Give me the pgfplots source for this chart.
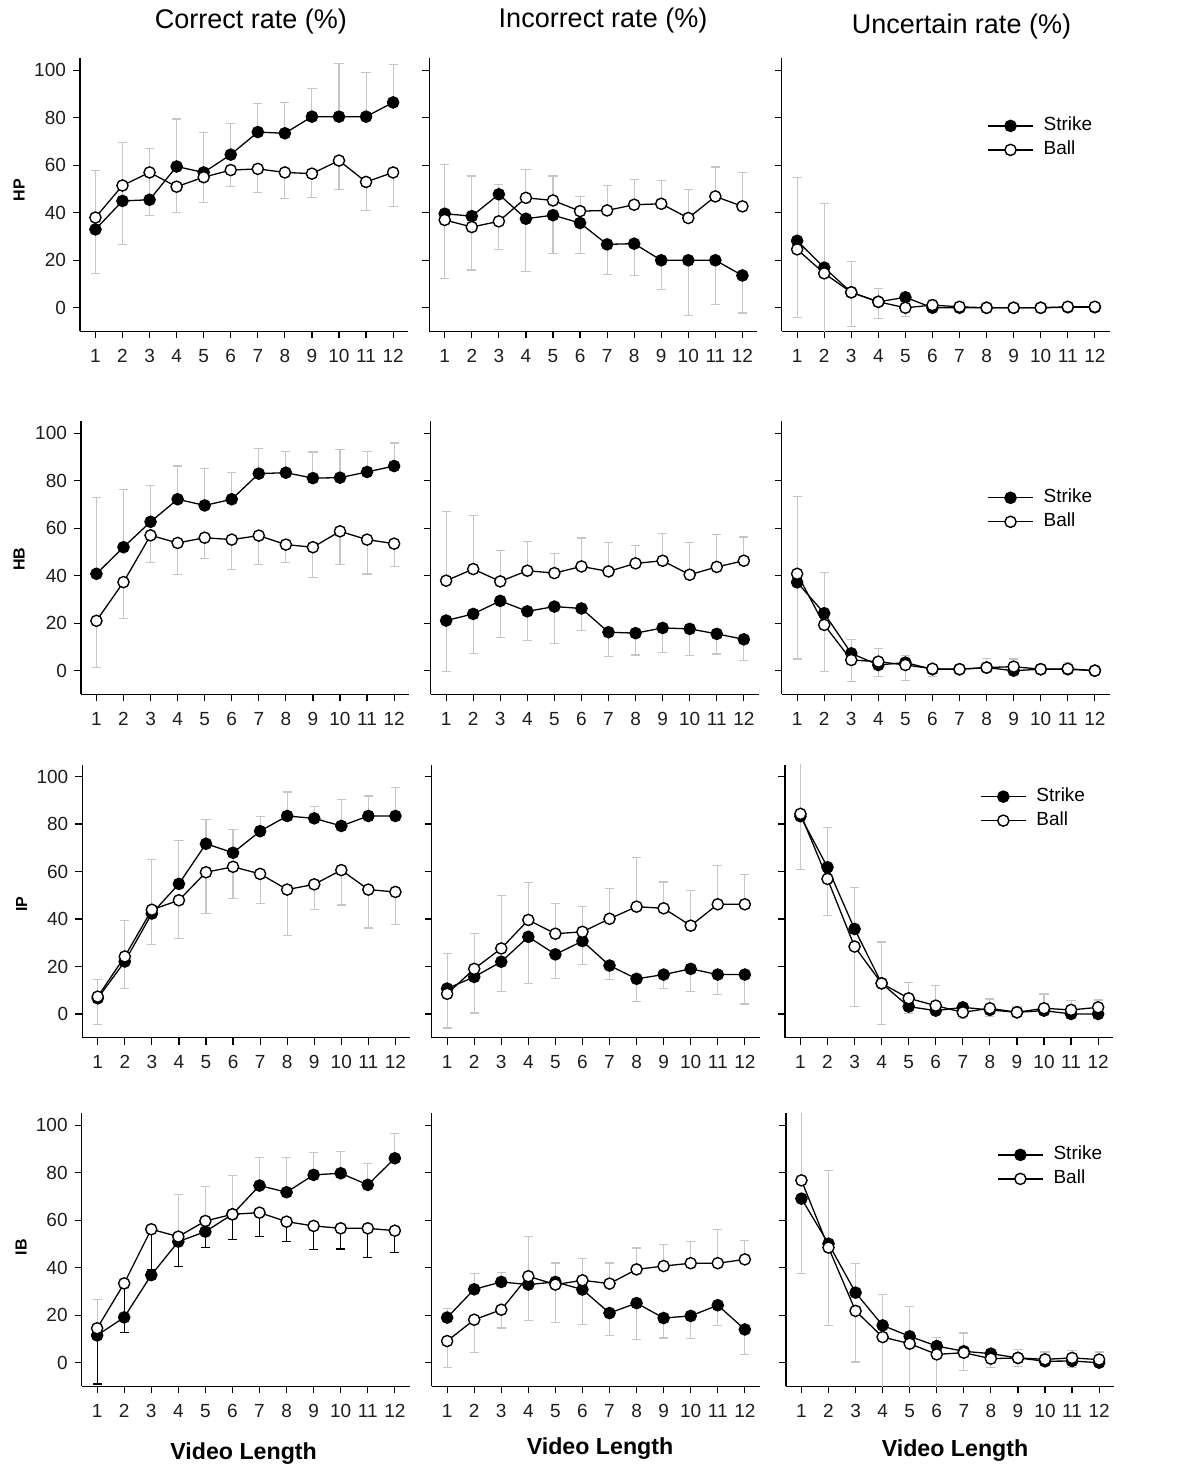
\documentclass[border=0pt]{standalone}
\usepackage{fontspec}
\setmainfont{Liberation Sans}
\usepackage{pgfplots}
\usepackage{pgfplotstable}
\pgfplotsset{compat=1.18}
\definecolor{errgray}{RGB}{198,198,198}
\definecolor{ticktext}{RGB}{30,30,30}

% columns: x, strike, strike bar top, strike bar bottom, ball, ball bar top, ball bar bottom
\pgfplotstableread{
x s st sb b bt bb
1 33 58 33 38 38 14.5
2 45 69.5 45 51.5 51.5 26.5
3 45.5 67 45.5 57 57 39
4 59.5 79.5 59.5 51 51 40
5 57 74 57 55 55 44.5
6 64.5 77.5 64.5 58 58 51
7 74 86 74 58.5 58.5 48.5
8 73.5 86.5 73.5 57 57 46
9 80.5 92.5 80.5 56.5 56.5 46.5
10 80.5 103 80.5 62 62 50
11 80.5 99 80.5 53 53 41
12 86.5 102.5 86.5 57 57 42.5
}\HPC
\pgfplotstableread{
x s st sb b bt bb
1 39.6 39.6 12.2 37 60.4 37
2 38.6 38.6 15.9 34 55.5 34
3 47.8 47.8 24.7 36.4 52.1 36.4
4 37.5 37.5 15.3 46.3 58.3 46.3
5 39 39 22.8 45.2 55.5 45.2
6 35.7 35.7 22.8 40.7 46.8 40.7
7 26.7 26.7 14 41 51.4 41
8 27 27 13.6 43.4 54 43.4
9 20 20 7.7 43.8 53.5 43.8
10 20 20 -3.1 37.8 49.9 37.8
11 20 20 1.4 46.9 59.3 46.9
12 13.6 13.6 -2.2 42.7 57 42.7
}\HPI
\pgfplotstableread{
x s st sb b bt bb
1 28.2 54.9 28.2 24.6 24.6 -4.2
2 16.9 43.8 16.9 14.5 14.5 -12
3 6.5 19.3 6.5 6.5 6.5 -8
4 2.5 8 2.5 2.5 2.5 -4.5
5 4.4 4.4 4.4 0 0 -3.5
6 0 3.5 0 1.1 1.1 1.1
7 0 2.1 0 0.4 0.4 0.4
8 0 0 0 0 0 0
9 0 0 0 0 0 0
10 0 0 0 0 0 0
11 0.2 1.6 0.2 0.4 0.4 0.4
12 0.2 1.6 0.2 0.4 0.4 0.4
}\HPU
\pgfplotstableread{
x s st sb b bt bb
1 40.8 72.8 40.8 21 21 1.3
2 52 76.2 52 37.3 37.3 22
3 62.7 77.9 62.7 57 57 45.6
4 72.2 86.2 72.2 53.8 53.8 40.6
5 69.6 85 69.6 56 56 47.3
6 72.2 83.4 72.2 55.2 55.2 42.8
7 83 93.5 83 56.9 56.9 44.8
8 83.4 92.4 83.4 53.1 53.1 45.4
9 81.1 92.1 81.1 52 52 39.4
10 81.3 93.2 81.3 58.7 58.7 44.9
11 83.7 92.4 83.7 55.2 55.2 40.7
12 86.2 95.9 86.2 53.5 53.5 43.7
}\HBC
\pgfplotstableread{
x s st sb b bt bb
1 21.1 21.1 -0.4 37.9 67.2 37.9
2 23.9 23.9 7.3 42.8 65.4 42.8
3 29.4 29.4 13.8 37.6 50.8 37.6
4 25 25 12.8 42.1 54.4 42.1
5 27 27 11.5 41.1 49.2 41.1
6 26.2 26.2 17 43.9 55.9 43.9
7 16.2 16.2 5.9 41.8 54.1 41.8
8 15.8 15.8 6.6 45.2 52.7 45.2
9 18 18 7.7 46.3 57.7 46.3
10 17.6 17.6 6.3 40.4 54.1 40.4
11 15.5 15.5 7 43.7 57.3 43.7
12 13.2 13.2 4.2 46.3 56.3 46.3
}\HBI
\pgfplotstableread{
x s st sb b bt bb
1 37.2 37.2 4.9 40.8 73.5 40.8
2 24.2 41.4 24.2 19.3 19.3 -0.4
3 7.3 13 7.3 4.5 4.5 -4.6
4 2.4 9.3 2.4 3.8 3.8 -2.5
5 3.4 6.5 3.4 2.4 2.4 -4.2
6 0.6 2 0.6 0.8 0.8 -2.5
7 0.6 0.6 0.6 0.6 0.6 0.6
8 1.3 5.2 1.3 1.3 1.3 1.3
9 0 0 0 1.7 4.9 1.7
10 0.6 0.6 0.6 0.6 0.6 0.6
11 0.6 3.5 0.6 0.8 0.8 0.8
12 0 0 0 0 0 0
}\HBU
\pgfplotstableread{
x s st sb b bt bb
1 6.6 14.4 6.6 7.3 7.3 -4.5
2 22.1 39.2 22.1 24.2 24.2 10.8
3 42.3 65.2 42.3 43.9 43.9 29.4
4 54.8 73.1 54.8 47.9 47.9 31.7
5 71.7 82 71.7 59.7 59.7 42.5
6 67.9 77.6 67.9 62 62 48.7
7 77 83.1 77 59 59 46.5
8 83.4 93.5 83.4 52.4 52.4 33
9 82.4 87.5 82.4 54.6 54.6 43.9
10 79.2 90.4 79.2 60.6 60.6 45.9
11 83.4 91.8 83.4 52.4 52.4 36.2
12 83.4 95.5 83.4 51.4 51.4 37.7
}\IPC
\pgfplotstableread{
x s st sb b bt bb
1 10.7 10.7 -5.9 8.5 25.4 8.5
2 15.6 15.6 0.4 19 33.8 19
3 22 22 9.3 27.6 50 27.6
4 32.5 32.5 12.7 39.6 55.5 39.6
5 25.1 25.1 14.8 33.8 46.5 33.8
6 30.7 30.7 20.8 34.6 45.1 34.6
7 20.4 20.4 14.4 40.1 52.8 40.1
8 14.8 14.8 5.4 45.2 65.9 45.2
9 16.6 16.6 10.6 44.5 55.6 44.5
10 19 19 9.3 37.2 52.1 37.2
11 16.6 16.6 8.2 46.2 62.7 46.2
12 16.6 16.6 4.2 46.2 58.6 46.2
}\IPI
\pgfplotstableread{
x s st sb b bt bb
1 83.3 110 83.3 84.3 84.3 60.8
2 61.8 78.7 61.8 56.9 56.9 41.4
3 35.8 53.1 35.8 28.4 28.4 3.1
4 12.9 30.3 12.9 12.9 12.9 -4.5
5 3.1 3.1 0.3 6.6 13.3 6.6
6 1.4 1.4 1.4 3.5 11.9 3.5
7 2.8 2.8 2.8 0.7 0.7 -2
8 1.7 1.7 -1.1 2.4 6.3 2.4
9 0.7 3.1 0.7 0.7 0.7 0.7
10 1.4 1.4 1.4 2.4 8.4 2.4
11 0 0 0 1.7 5.6 1.7
12 0 0 0 2.8 5.9 2.8
}\IPU
\pgfplotstableread{
x s st sb b bt bb
1 11.5 26.8 11.5 14.5 14.5 -9
2 19.1 31.3 19.1 33.4 33.4 12.8
3 36.9 36.9 36.9 56.2 56.2 39.3
4 51 70.9 51 53.1 53.1 40.4
5 55.2 74.4 55.2 59.7 59.7 48.5
6 62.5 78.7 62.5 62.5 62.5 52
7 74.6 86.5 74.6 63.2 63.2 53.2
8 71.8 86.5 71.8 59.4 59.4 51.1
9 79.1 88.6 79.1 57.6 57.6 47.6
10 79.8 88.9 79.8 56.6 56.6 47.9
11 74.9 84 74.9 56.6 56.6 44.4
12 86.1 96.6 86.1 55.6 55.6 46.3
}\IBC
\pgfplotstableread{
x s st sb b bt bb
1 19 23 19 9.1 9.1 -2.1
2 30.9 37.5 30.9 18.1 18.1 4.1
3 34 38 34 22.3 22.3 14.6
4 32.9 32.9 17.8 36.4 53.2 36.4
5 34 42 34 32.9 32.9 17.1
6 30.8 30.8 16.2 34.7 43.8 34.7
7 20.9 20.9 11.5 33.3 42 33.3
8 25.1 25.1 9.7 39.3 48.3 39.3
9 18.8 18.8 10.4 40.7 49.7 40.7
10 19.7 19.7 10.1 41.9 51.1 41.9
11 24.2 24.2 15.7 41.9 56 41.9
12 14 14 3.4 43.5 51.5 43.5
}\IBI
\pgfplotstableread{
x s st sb b bt bb
1 69.1 69.1 37.5 76.8 110 76.8
2 50.1 80.8 50.1 48.5 48.5 15.7
3 29.5 41.7 29.5 21.8 21.8 0.3
4 15.7 28.7 15.7 10.8 10.8 -12
5 11.1 23.5 11.1 8 8 -12
6 7 10.5 7 3.5 3.5 -12
7 4.8 12.5 4.8 4.2 4.2 -3.2
8 3.8 5.2 3.8 1.7 1.7 -2.1
9 2 5.5 2 2 2 -1.5
10 0.6 4.5 0.6 1.4 1.4 -1.1
11 0.7 5.2 0.7 2 2 -2.1
12 0 4.5 0 1.3 1.3 1.3
}\IBU

\pgfplotsset{
  panel/.style={
    anchor=south west,
    scale only axis, width=164pt, height=136.5pt,
    xmin=0.43, xmax=12.55, ymin=-10, ymax=105,
    axis lines*=left,
    axis line style={line width=0.6pt, black},
    tick align=outside, major tick length=3.5pt,
    every tick/.style={line width=0.6pt, black},
    xtick={1,...,12}, ytick={0,20,...,100},
    tick label style={font=\fontsize{9.5}{11}\selectfont, text=ticktext},
    xticklabel style={text height=7pt, text depth=0pt, anchor=north, yshift=-1.5pt},
    /pgf/number format/assume math mode=true,
    legend image code/.code={\draw[mark repeat=2,mark phase=2,##1] plot coordinates {(0pt,0pt) (11.25pt,0pt) (22.5pt,0pt)};},
    legend style={draw=none, fill=none, inner sep=0pt, outer sep=0pt, anchor=north west,
      font=\fontsize{9.5}{11}\selectfont,
      nodes={inner xsep=2.5pt, inner ysep=1.5pt, text height=7pt, text depth=2pt},
      row sep=0pt, column sep=2.5pt},
    legend cell align=left,
  },
  nolab/.style={yticklabels={}},
  sline/.style={black, line width=0.65pt, mark=*, mark size=2.8pt,
    mark options={fill=black, draw=black, line width=0.7pt}},
  bline/.style={black, line width=0.65pt, mark=*, mark size=2.8pt,
    mark options={fill=white, draw=black, line width=0.7pt}},
  errs/.style={forget plot, draw=none, mark=none,
    error bars/.cd, y dir=both, y explicit,
    error bar style={draw=#1, line width=0.55pt},
    error mark options={rotate=90, draw=#1, mark size=2.3pt, line width=0.55pt}},
}

\newcommand\drawpanel[2]{%
  \addplot[errs=errgray] table[x=x, y=s, y error plus expr=\thisrow{st}-\thisrow{s}, y error minus expr=\thisrow{s}-\thisrow{sb}] {#1};
  \addplot[errs=#2] table[x=x, y=b, y error plus expr=\thisrow{bt}-\thisrow{b}, y error minus expr=\thisrow{b}-\thisrow{bb}] {#1};
  \addplot[sline] table[x=x, y=s] {#1};
  \addplot[bline] table[x=x, y=b] {#1};
}

\begin{document}
\begin{tikzpicture}
\path[use as bounding box] (0pt,0pt) rectangle (588.5pt,-735pt);

% row 1
\begin{axis}[panel, at={(40pt,-165.75pt)}]
\drawpanel{\HPC}{errgray}
\end{axis}
\begin{axis}[panel, nolab, at={(214.65pt,-165.75pt)}]
\drawpanel{\HPI}{errgray}
\end{axis}
\begin{axis}[panel, nolab, at={(390.85pt,-165.75pt)}, legend style={at={(0.627,0.797)}}]
\drawpanel{\HPU}{errgray}
\legend{Strike,Ball}
\end{axis}

% row 2
\begin{axis}[panel, at={(40.5pt,-347.2pt)}]
\drawpanel{\HBC}{errgray}
\end{axis}
\begin{axis}[panel, nolab, at={(215.35pt,-347.2pt)}]
\drawpanel{\HBI}{errgray}
\end{axis}
\begin{axis}[panel, nolab, at={(390.85pt,-347.2pt)}, legend style={at={(0.627,0.764)}}]
\drawpanel{\HBU}{errgray}
\legend{Strike,Ball}
\end{axis}

% row 3
\begin{axis}[panel, at={(41.15pt,-518.85pt)}]
\drawpanel{\IPC}{errgray}
\end{axis}
\begin{axis}[panel, nolab, at={(215.85pt,-518.85pt)}]
\drawpanel{\IPI}{errgray}
\end{axis}
\begin{axis}[panel, nolab, at={(392.5pt,-518.85pt)}, legend style={at={(0.595,0.927)}}]
\drawpanel{\IPU}{errgray}
\legend{Strike,Ball}
\end{axis}

% row 4
\begin{axis}[panel, at={(40.85pt,-693.2pt)}]
\drawpanel{\IBC}{black}
\end{axis}
\begin{axis}[panel, nolab, at={(215.85pt,-693.2pt)}]
\drawpanel{\IBI}{errgray}
\end{axis}
\begin{axis}[panel, nolab, at={(393pt,-693.2pt)}, legend style={at={(0.644,0.892)}}]
\drawpanel{\IBU}{errgray}
\legend{Strike,Ball}
\end{axis}

% column titles
\node[font=\fontsize{13.5}{16}\selectfont] at (125.5pt,-11pt) {Correct rate (\%)};
\node[font=\fontsize{13.5}{16}\selectfont] at (301.5pt,-10.5pt) {Incorrect rate (\%)};
\node[font=\fontsize{13.5}{16}\selectfont] at (480.75pt,-13.5pt) {Uncertain rate (\%)};

% row labels
\node[rotate=90, font=\bfseries\fontsize{8}{10}\selectfont] at (9.6pt,-95pt) {HP};
\node[rotate=90, font=\bfseries\fontsize{8}{10}\selectfont] at (9.5pt,-279.5pt) {HB};
\node[rotate=90, font=\bfseries\fontsize{8}{10}\selectfont] at (10.8pt,-452pt) {IP};
\node[rotate=90, font=\bfseries\fontsize{8}{10}\selectfont] at (10.5pt,-623.5pt) {IB};

% x labels
\node[font=\bfseries\fontsize{11.6}{14}\selectfont] at (121.8pt,-727pt) {Video Length};
\node[font=\bfseries\fontsize{11.6}{14}\selectfont] at (300pt,-724.5pt) {Video Length};
\node[font=\bfseries\fontsize{11.6}{14}\selectfont] at (477.5pt,-725.5pt) {Video Length};
\end{tikzpicture}
\end{document}
